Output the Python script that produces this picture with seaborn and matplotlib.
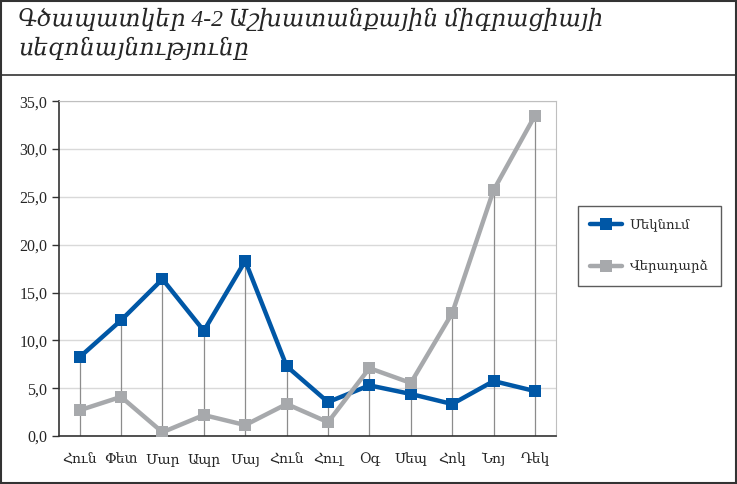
import pandas as pd
import matplotlib.pyplot as plt
import numpy as np
import seaborn as sns
from matplotlib.ticker import FuncFormatter, MultipleLocator

months = ['Հուն', 'Փետ', 'Մար', 'Ապր', 'Մայ', 'Հուն', 'Հուլ', 'Օգ', 'Սեպ', 'Հոկ', 'Նոյ', 'Դեկ']
inflow = [8.25, 12.1, 16.4, 11.0, 18.3, 7.3, 3.55, 5.3, 4.4, 3.35, 5.75, 4.7]
returns = [2.7, 4.1, 0.4, 2.2, 1.15, 3.35, 1.45, 7.1, 5.55, 12.85, 25.7, 33.5]
series = ['Մեկնում', 'Վերադարձ']
colors = ['#0057A6', '#A7A9AC']
title = 'Գծապատկեր 4-2 Աշխատանքային միգրացիայի\nսեզոնայնությունը'

sns.set_style('white')
plt.rcParams['font.family'] = ['Liberation Serif', 'DejaVu Serif']

df = pd.DataFrame({
    'pos': list(range(12)) * 2,
    'value': inflow + returns,
    'series': [series[0]] * 12 + [series[1]] * 12,
})

fig = plt.figure(figsize=(7.37, 4.84), dpi=100)
ax = fig.add_axes([0.080, 0.099, 0.674, 0.692])

# drop lines from the higher point to the axis
tops = np.maximum(inflow, returns)
ax.vlines(range(12), 0, tops, color='#8C8C8C', lw=0.9, zorder=1)

sns.lineplot(data=df, x='pos', y='value', hue='series', palette=colors,
             marker='s', markersize=8, markeredgewidth=0, linewidth=3.2,
             ax=ax, zorder=3)

ax.set_xlim(-0.5, 11.5)
ax.set_ylim(0, 35)
ax.yaxis.set_major_locator(MultipleLocator(5))
ax.yaxis.set_major_formatter(FuncFormatter(lambda v, p: f'{v:.1f}'.replace('.', ',')))
ax.set_xticks(range(12))
ax.set_xticklabels(months)
ax.set_xticks(np.arange(-0.5, 12, 1), minor=True)
ax.tick_params(axis='x', which='major', length=0, pad=12, labelsize=10)
ax.tick_params(axis='x', which='minor', length=5, direction='out', color='#333333', width=1)
ax.tick_params(axis='y', length=5, direction='out', color='#333333', width=1, labelsize=11.5, left=True)
ax.grid(axis='y', color='#D9D9D9', lw=1)
ax.set_axisbelow(True)
ax.set_xlabel('')
ax.set_ylabel('')
for s in ['top', 'right']:
    ax.spines[s].set_color('#BFBFBF')
for s in ['left', 'bottom']:
    ax.spines[s].set_color('#333333')
    ax.spines[s].set_linewidth(1.2)

leg = ax.legend(loc='center left', bbox_to_anchor=(1.044, 0.567), frameon=True,
                fancybox=False, edgecolor='#333333', fontsize=9.5,
                handlelength=2.4, handletextpad=0.6, labelspacing=2.2,
                borderpad=0.95, borderaxespad=0)
leg.get_frame().set_linewidth(1)

fig.text(0.025, 0.93, title, fontsize=17, style='italic', va='center', ha='left',
         linespacing=1.35)
fig.add_artist(plt.Line2D([0, 1], [0.845, 0.845], color='#333333', lw=1.2,
                          transform=fig.transFigure))
fig.add_artist(plt.Rectangle((0.001, 0.002), 0.997, 0.996, fill=False,
                             edgecolor='#333333', lw=1.5, transform=fig.transFigure))

fig.savefig('out.png', dpi=100)
